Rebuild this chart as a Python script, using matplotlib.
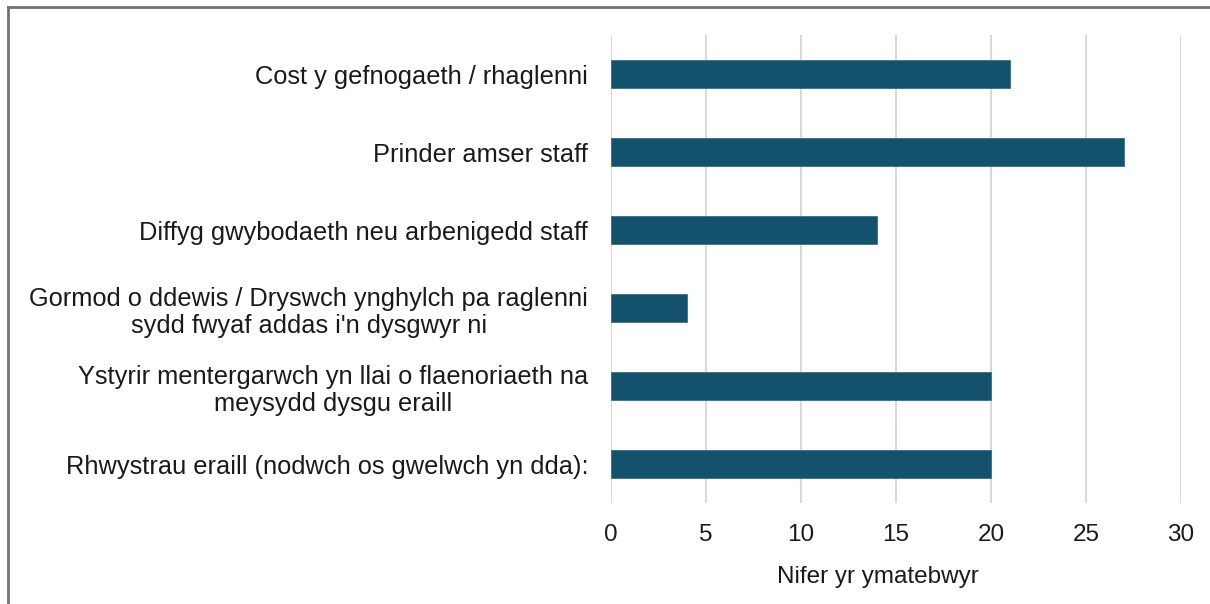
import matplotlib
matplotlib.use('Agg')
import matplotlib.pyplot as plt
from matplotlib.lines import Line2D

matplotlib.rcParams['font.family'] = ['Liberation Sans', 'DejaVu Sans']

categories = [
    'Cost y gefnogaeth / rhaglenni',
    'Prinder amser staff',
    'Diffyg gwybodaeth neu arbenigedd staff',
    'Gormod o ddewis / Dryswch ynghylch pa raglenni\nsydd fwyaf addas i\'n dysgwyr ni',
    'Ystyrir mentergarwch yn llai o flaenoriaeth na\nmeysydd dysgu eraill',
    'Rhwystrau eraill (nodwch os gwelwch yn dda):',
]
values = [21, 27, 14, 4, 20, 20]
x_ticks = [0, 5, 10, 15, 20, 25, 30]
x_label = 'Nifer yr ymatebwyr'

BAR_COLOR = '#14516c'
GRID_COLOR = '#d9d9d9'
TEXT_COLOR = '#1a1a1a'

fig = plt.figure(figsize=(12.1, 6.04), dpi=100)
ax = fig.add_axes([0.505, 0.167, 0.471, 0.775])

ax.barh(range(len(categories)), values, height=0.36, color=BAR_COLOR,
        edgecolor='#3a6f86', linewidth=0.6, zorder=3)

ax.set_ylim(len(categories) - 0.5, -0.5)
ax.set_xlim(0, 30)
ax.set_xticks(x_ticks)
ax.set_yticks(range(len(categories)))
ax.set_yticklabels(categories, fontsize=18.3, color=TEXT_COLOR,
                   multialignment='center', linespacing=1.18)
ax.tick_params(axis='x', labelsize=17.5, labelcolor=TEXT_COLOR, length=0, pad=15)
ax.tick_params(axis='y', length=0, pad=16.5)

ax.grid(axis='x', color=GRID_COLOR, linewidth=1.5, zorder=0)
for s in ax.spines.values():
    s.set_visible(False)

ax.set_xlabel(x_label, fontsize=17.5, color=TEXT_COLOR)
ax.xaxis.set_label_coords(0.468, -0.135)

# chart frame (top and left edges visible in the original)
fig.add_artist(Line2D([8 / 1210, 1.0], [1 - 6.5 / 604, 1 - 6.5 / 604],
                      transform=fig.transFigure, color='#767171', linewidth=2))
fig.add_artist(Line2D([8 / 1210, 8 / 1210], [0.0, 1 - 6.5 / 604],
                      transform=fig.transFigure, color='#767171', linewidth=2))

plt.savefig('out.png', dpi=100)
